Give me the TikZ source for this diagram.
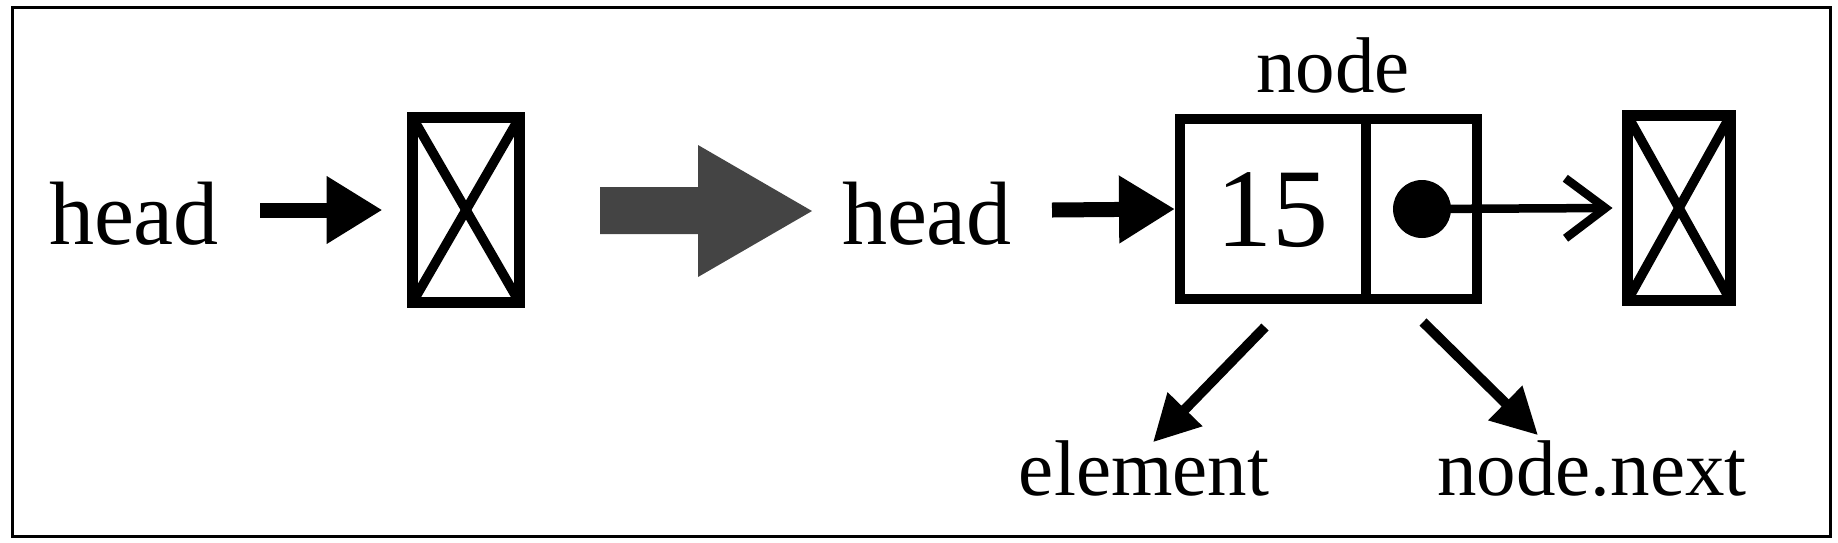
\documentclass[tikz,border=0pt]{standalone}
\usepackage{fontspec}
\setmainfont{Liberation Serif}
\usetikzlibrary{arrows.meta}
\definecolor{bigarrow}{HTML}{444444}
\begin{document}
\begin{tikzpicture}[x=1pt,y=-1pt,
  headlbl/.style={inner sep=0pt, outer sep=0pt, font=\fontsize{90}{100}\selectfont},
  lbl/.style={inner sep=0pt, outer sep=0pt, font=\fontsize{79}{90}\selectfont},
  numlbl/.style={inner sep=0pt, outer sep=0pt, font=\fontsize{112}{120}\selectfont},
  nullbox/.style={draw, line width=11pt, inner sep=0pt, outer sep=0pt, minimum width=107pt, minimum height=185pt},
  cross/.style={line width=9.5pt},
  cellbox/.style={draw, line width=10pt, inner sep=0pt, outer sep=0pt, minimum height=180pt},
  fatarrow/.style={line width=15pt, -{Triangle[length=56pt,width=64pt]}},
  ptrarrow/.style={line width=10pt, -{Triangle[length=46pt,width=46pt]}},
  nextarrow/.style={line width=8.5pt, -{Straight Barb[length=40pt,width=60pt]}},
]
\useasboundingbox (0,0) rectangle (1838,542);
\draw[line width=3pt] (12,7) rectangle (1830,536);

% left part
\node[headlbl, anchor=base west] (head1) at (49,244) {head};
\node[nullbox] (null1) at (466,210) {};
\draw[cross] (null1.north west) -- (null1.south east);
\draw[cross] (null1.south west) -- (null1.north east);
\coordinate (a1) at (260,210);
\draw[fatarrow] (a1) -- ([shift={(-30,0)}]null1.west);

% big grey arrow
\fill[bigarrow] (600,187) -- (698,187) -- (698,145) -- (812,211) -- (698,277) -- (698,234) -- (600,234) -- cycle;

% right part
\node[headlbl, anchor=base west] (head2) at (842,244) {head};
\node[cellbox, minimum width=186pt] (cellA) at (1273,209) {};
\node[cellbox, minimum width=111pt] (cellB) at (1421.5,209) {};
\node[numlbl, anchor=base] (num) at (1272,246) {15};
\node[lbl, anchor=base] (nodelbl) at (1333,92) {node};
\node[circle, fill, inner sep=0pt, minimum size=58pt] (dot) at (1422,209) {};
\node[nullbox, minimum width=103pt] (null2) at (1679,208) {};
\draw[cross] (null2.north west) -- (null2.south east);
\draw[cross] (null2.south west) -- (null2.north east);
\coordinate (a2) at (1052,210);
\draw[fatarrow] (a2) -- ([shift={(-5,0)}]cellA.west);
\draw[nextarrow] (dot.center) -- ([shift={(-15,0)}]null2.west);

\node[lbl, anchor=base] (elem) at (1144,495) {element};
\node[lbl, anchor=base] (nnext) at (1592,495) {node.next};
\coordinate (e1) at (1265,327);
\coordinate (n1) at (1423,322);
\draw[ptrarrow] (e1) -- ([shift={(9,2)}]elem.north);
\draw[ptrarrow] (n1) -- ([shift={(-54,-5)}]nnext.north);
\end{tikzpicture}
\end{document}
